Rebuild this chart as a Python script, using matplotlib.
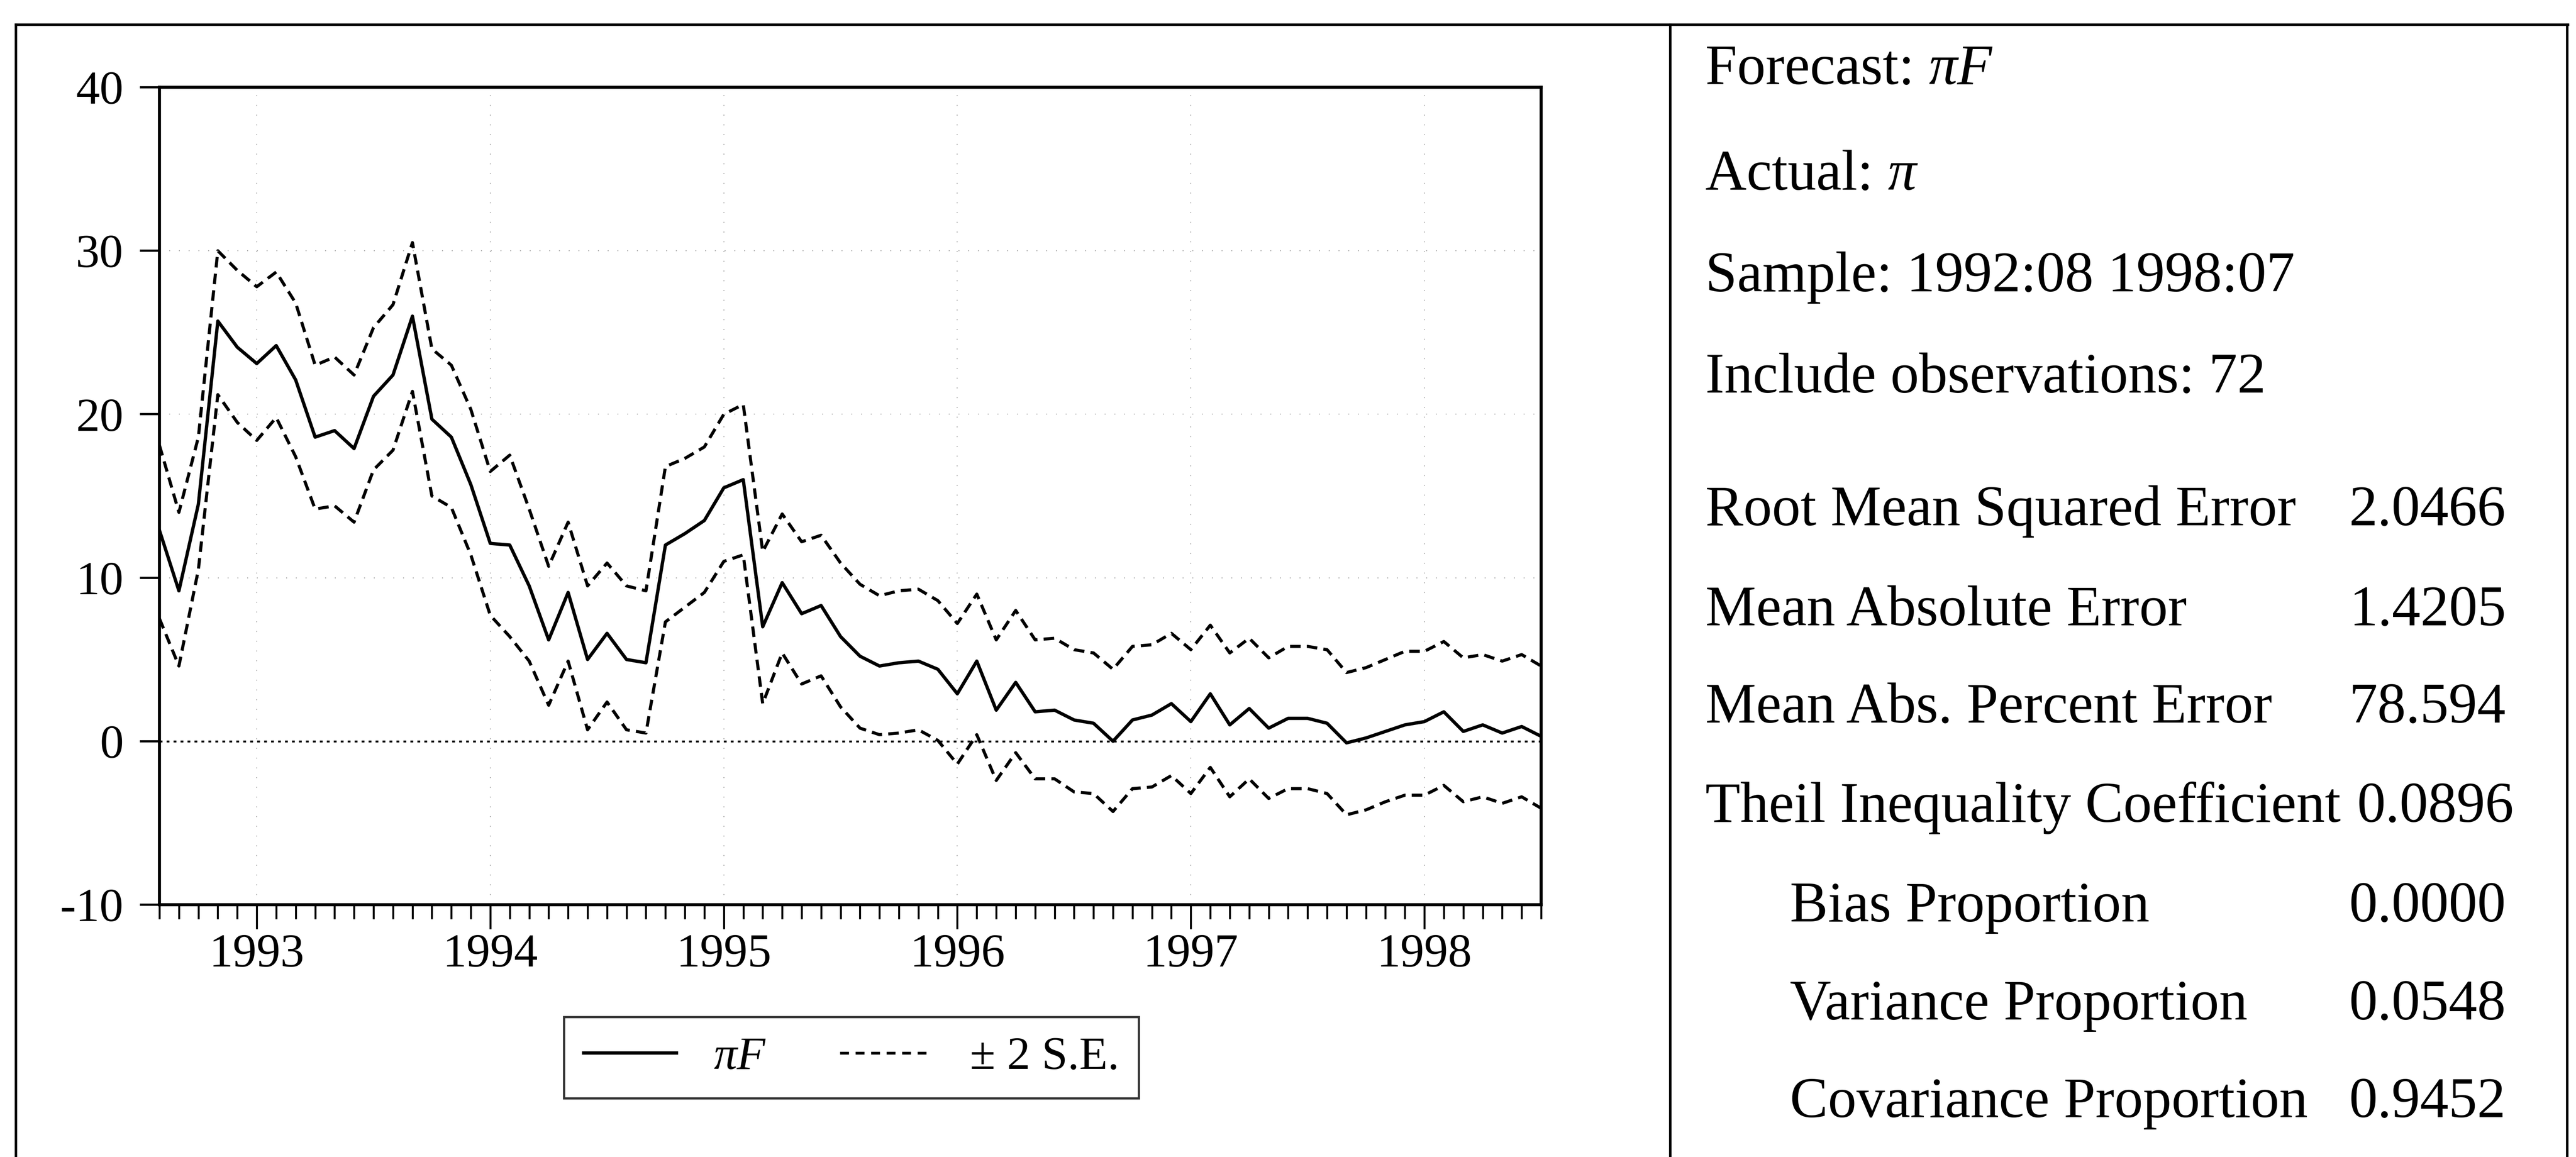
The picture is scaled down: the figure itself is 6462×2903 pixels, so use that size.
import matplotlib
matplotlib.use("Agg")
import matplotlib.pyplot as plt
from matplotlib.lines import Line2D
import numpy as np

plt.rcParams['font.family'] = ['Liberation Serif', 'DejaVu Serif']
plt.rcParams['axes.unicode_minus'] = False

# ---- data (monthly, 1992:08 .. 1998:07) ----
forecast = [12.9, 9.2, 14.5, 25.7, 24.1, 23.1, 24.2, 22.1, 18.6, 19.0, 17.9, 21.1,
            22.4, 26.0, 19.7, 18.6, 15.7, 12.1, 12.0, 9.5, 6.2, 9.1, 5.0, 6.6,
            5.0, 4.8, 12.0, 12.7, 13.5, 15.5, 16.0, 7.0, 9.7, 7.8, 8.3, 6.4,
            5.2, 4.6, 4.8, 4.9, 4.4, 2.9, 4.9, 1.9, 3.6, 1.8, 1.9, 1.3,
            1.1, 0.0, 1.3, 1.6, 2.3, 1.2, 2.9, 1.0, 2.0, 0.8, 1.4, 1.4,
            1.1, -0.1, 0.2, 0.6, 1.0, 1.2, 1.8, 0.6, 1.0, 0.5, 0.9, 0.3]
upper = [18.1, 14.0, 18.6, 30.0, 28.8, 27.8, 28.7, 26.8, 23.0, 23.5, 22.4, 25.3,
         26.7, 30.5, 24.0, 23.0, 20.3, 16.5, 17.5, 14.2, 10.7, 13.4, 9.5, 10.9,
         9.5, 9.2, 16.8, 17.3, 18.0, 20.0, 20.6, 11.6, 13.9, 12.2, 12.6, 10.9,
         9.6, 8.9, 9.2, 9.3, 8.6, 7.2, 9.0, 6.2, 8.0, 6.2, 6.3, 5.6,
         5.4, 4.4, 5.8, 5.9, 6.6, 5.6, 7.1, 5.4, 6.3, 5.1, 5.8, 5.8,
         5.6, 4.2, 4.5, 5.0, 5.5, 5.5, 6.1, 5.1, 5.3, 4.9, 5.3, 4.6]
lower = [7.5, 4.6, 10.5, 21.2, 19.5, 18.4, 19.8, 17.4, 14.2, 14.4, 13.4, 16.6,
         17.8, 21.4, 15.0, 14.3, 11.4, 7.7, 6.4, 4.9, 2.2, 4.9, 0.7, 2.4,
         0.7, 0.5, 7.3, 8.2, 9.1, 11.0, 11.4, 2.3, 5.4, 3.5, 4.0, 2.1,
         0.8, 0.4, 0.5, 0.7, 0.05, -1.4, 0.4, -2.4, -0.7, -2.3, -2.3, -3.1,
         -3.2, -4.3, -2.9, -2.8, -2.1, -3.2, -1.6, -3.4, -2.3, -3.5, -2.9, -2.9,
         -3.2, -4.5, -4.2, -3.7, -3.3, -3.3, -2.7, -3.7, -3.4, -3.8, -3.4, -4.1]
year_labels = ["1993", "1994", "1995", "1996", "1997", "1998"]
year_positions = [5, 17, 29, 41, 53, 65]   # January of each year (obs index)
y_ticks = [-10, 0, 10, 20, 30, 40]

stat_labels = ["Root Mean Squared Error", "Mean Absolute Error", "Mean Abs. Percent Error",
               "Theil Inequality Coefficient", "Bias Proportion", "Variance Proportion",
               "Covariance Proportion"]
stat_values = ["2.0466", "1.4205", "78.594", "0.0896", "0.0000", "0.0548", "0.9452"]

W, H = 6462, 2903
fig = plt.figure(figsize=(W / 100, H / 100), dpi=100)

def fx(px):
    return px / W

def fy(py):
    return 1 - py / H

ax = fig.add_axes([fx(400), fy(2270), fx(3866) - fx(400), fy(219) - fy(2270)])
x = np.arange(len(forecast))

dash = (0, (3.4, 2.0))
# grid
for yv in [10, 20, 30]:
    ax.axhline(yv, color='#9a9a9a', lw=1.6, ls=(0, (1, 10)), zorder=1)
for xv in year_positions:
    ax.axvline(xv, color='#9a9a9a', lw=1.6, ls=(0, (1, 10)), zorder=1)
ax.axhline(0, color='black', lw=3.4, ls=(0, (1.5, 2.2)), zorder=2)

ax.plot(x, upper, color='black', lw=5.6, ls=dash, zorder=3)
ax.plot(x, lower, color='black', lw=5.6, ls=dash, zorder=3)
ax.plot(x, forecast, color='black', lw=6.0, zorder=4)

ax.set_xlim(0, len(forecast) - 1)
ax.set_ylim(-10, 40)
ax.set_yticks(y_ticks)
ax.set_yticklabels([str(v) for v in y_ticks])
ax.set_xticks(year_positions)
ax.set_xticklabels(year_labels)
ax.set_xticks([i for i in x if i not in year_positions], minor=True)

for sp in ax.spines.values():
    sp.set_linewidth(5.5)
ax.tick_params(axis='y', which='major', direction='out', length=35, width=4,
               labelsize=86, pad=30, left=True, right=False)
ax.tick_params(axis='x', which='major', direction='out', length=44, width=3.5,
               labelsize=86, pad=8)
ax.tick_params(axis='x', which='minor', direction='out', length=26, width=3.5)

# legend
h1 = Line2D([], [], color='black', lw=6.0)
h2 = Line2D([], [], color='black', lw=5.0, ls=(0, (3.2, 2.4)))
leg = fig.legend([h1, h2], ["πF", "± 2 S.E."], loc='center',
                 bbox_to_anchor=(fx(2136), fy(2654)), bbox_transform=fig.transFigure,
                 ncol=2, fontsize=84, frameon=True, fancybox=False, shadow=False,
                 handlelength=2.0, handletextpad=0.8, columnspacing=1.6,
                 borderpad=0.42, borderaxespad=0)
leg.get_frame().set_edgecolor('black')
leg.get_frame().set_linewidth(4.0)
leg.get_texts()[0].set_fontstyle('italic')

# outer frame and divider
lw_frame = 4.5
fig.add_artist(Line2D([fx(40), fx(6442)], [fy(62), fy(62)], transform=fig.transFigure,
                      color='black', lw=lw_frame))
fig.add_artist(Line2D([fx(40), fx(40)], [fy(62), fy(2903)], transform=fig.transFigure,
                      color='black', lw=lw_frame))
fig.add_artist(Line2D([fx(6440), fx(6440)], [fy(62), fy(2903)], transform=fig.transFigure,
                      color='black', lw=lw_frame))
fig.add_artist(Line2D([fx(4190), fx(4190)], [fy(62), fy(2903)], transform=fig.transFigure,
                      color='black', lw=lw_frame))

# right panel text
fs = 103
x_left = 4278
x_indent = 4490
x_num = 5893
header_base = [211, 476, 731, 985]
stat_base = [1318, 1569, 1813, 2062, 2312, 2558, 2803]

fig.canvas.draw()
renderer = fig.canvas.get_renderer()

def label_with_italic(prefix, ital, ybase):
    t = fig.text(fx(x_left), fy(ybase), prefix, fontsize=fs, va='baseline', ha='left')
    bb = t.get_window_extent(renderer=renderer)
    fig.text(bb.x1 / fig.bbox.width, fy(ybase), ital, fontsize=fs, va='baseline',
             ha='left', fontstyle='italic')

label_with_italic("Forecast: ", "πF", header_base[0])
label_with_italic("Actual: ", "π", header_base[1])
fig.text(fx(x_left), fy(header_base[2]), "Sample: 1992:08 1998:07", fontsize=fs, va='baseline')
fig.text(fx(x_left), fy(header_base[3]), "Include observations: 72", fontsize=fs, va='baseline')

for i, (lab, val) in enumerate(zip(stat_labels, stat_values)):
    xl = x_left if i < 4 else x_indent
    fig.text(fx(xl), fy(stat_base[i]), lab, fontsize=fs, va='baseline')
    fig.text(fx(x_num if i != 3 else x_num + 20), fy(stat_base[i]), val, fontsize=fs, va='baseline')

fig.savefig("out.png", dpi=100)
